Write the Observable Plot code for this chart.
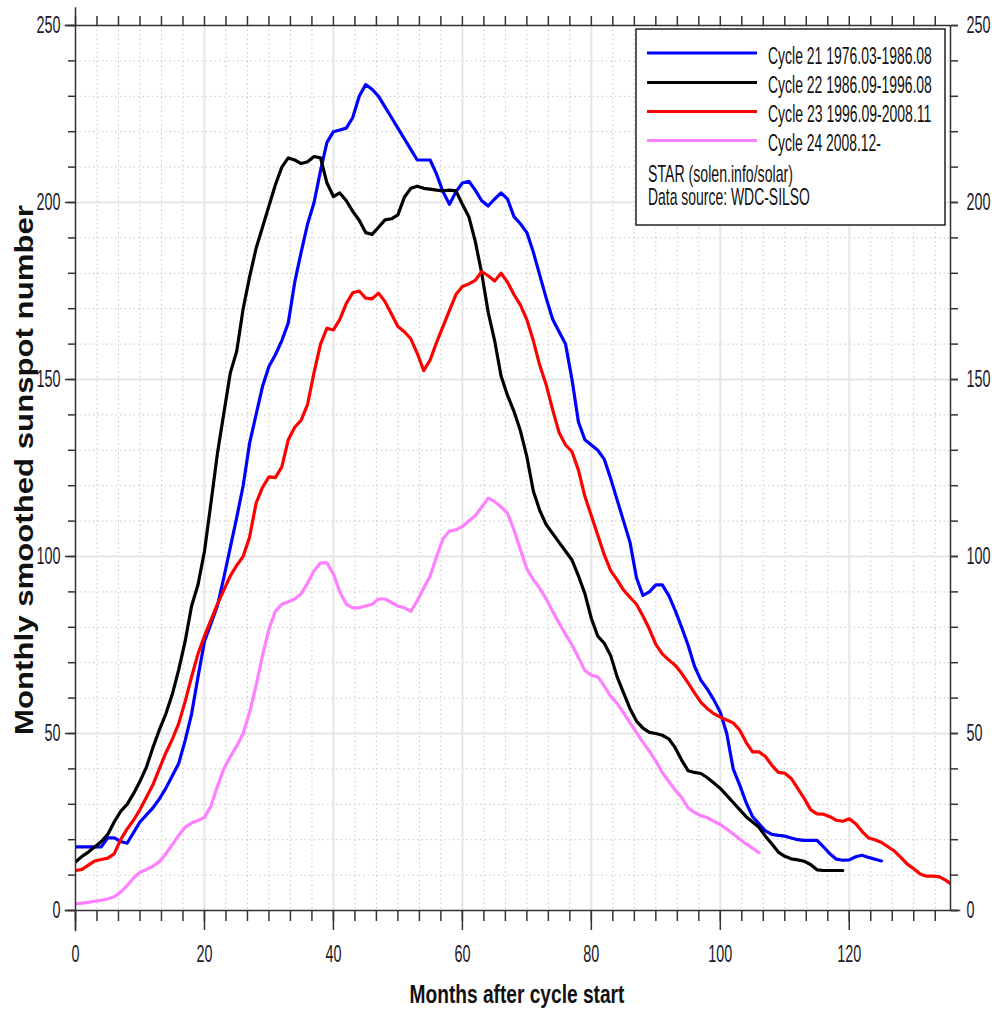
<!DOCTYPE html>
<html>
<head>
<meta charset="utf-8">
<script src="https://cdn.jsdelivr.net/npm/d3@7"></script>
<script src="https://cdn.jsdelivr.net/npm/@observablehq/plot@0.6"></script>
<style>
  body { margin: 0; background: #fff; }
  #c { position: relative; width: 992px; height: 1010px; }
</style>
</head>
<body>
<div id="c"></div>
<script>
// ---- Data (monthly smoothed sunspot number, month index = months after cycle start) ----
const cycle21 = [18,18,18,18,18,20.5,20.5,19.5,19,22,25,27,29,31.5,34.5,38,41.5,48,55.5,66,76,81,86,94,102.5,111,120,132,140,148,153.7,157,161,166,177.5,186,194,200,209,217,220,220.5,221,224,230,233.3,232,230,227,224,221,218,215,212,212,212,208,203,199.5,203,205.5,206,203.5,200.5,199,201,202.7,201,196,194,191.5,186,179.5,173,167,163.5,160,150,138,133,131.5,130,127.5,122,116,110,104,94,89,90,92,92,89,84.8,80,75,69,65,62.5,59.5,56,50,40,35.5,30.5,26.5,24.5,22.5,21.5,21.2,21,20.5,20,19.8,19.8,19.8,18,16,14.5,14.2,14.3,15.2,15.6,15,14.5,14];
const cycle22 = [13.7,15.3,16.5,18,19.5,21.5,25,28,30,33,36.5,40.5,46,51,55.5,61,68,76,86,92,101.5,115,129,140.4,151.8,158,170,179,187,193,199,205,210,212.6,212,211,211.5,213,212.6,205.5,201.7,202.7,200.5,197.5,195,191.5,191,193,195.1,195.4,196.5,201.5,204,204.6,204,203.8,203.5,203.3,203.5,203.3,199.5,196,189,180,169,161,151,145.5,141,135.5,128.2,118.5,113,109,106.5,104,101.5,99,94.5,89.5,82.5,77.5,75.5,72,66,61.5,57,53.5,51.5,50.3,50,49.5,48.5,46,42.5,39.5,39,38.7,37.5,36,34.5,32.5,30.5,28.5,26.5,25,23.5,21,18.8,16.5,15.3,14.6,14.3,13.9,13,11.5,11.3,11.3,11.3,11.3];
const cycle23 = [11.3,11.6,12.8,14,14.4,14.8,16,20,23,25.5,28.5,32,35.5,40,44.5,48.3,52.8,59,66,72.5,77.5,82,86.5,90.5,94.5,97.5,100,105.5,115,119.5,122.5,122.3,125.3,133,136.5,138.5,143,152,160,164.5,164,167,171.5,174.5,175,173,172.8,174.4,172,168.5,165,163.5,161.5,157.4,152.5,155.5,160.5,165,169.5,174,176.3,177,178,180.5,179.3,177.8,180,177.5,174,171,166.9,161,154,148.5,141.5,135,131.5,129.6,124.4,117,111.5,106,100.5,96,93.4,90.5,88.5,86.5,83.2,79.5,75.2,72.5,70.8,69.3,67,64.3,61.5,58.8,57,55.6,54.6,53.8,53,51,47.5,44.8,44.8,43.5,41,39,38.8,37.3,34.5,31.7,28.5,27.3,27.2,26.5,25.5,25.2,25.9,24.5,22.3,20.5,20,19.2,18,16.8,15,13.1,11.8,10.3,9.7,9.7,9.5,8.5,7.2];
const cycle24 = [1.9,2.1,2.3,2.6,2.9,3.3,3.9,5.2,7,9.2,10.8,11.6,12.5,13.8,16,18.6,21.2,23.5,24.7,25.4,26.3,29.5,35,40,43.4,46.5,50,56,63.5,72,79.5,84.5,86.5,87.2,88,89.5,92.5,96,98.2,98.2,95,90,86.5,85.5,85.5,86,86.5,88,88,87,86,85.5,84.5,87.5,91,94.5,100,105,107.2,107.5,108.5,110,111.5,114,116.5,115.5,114,112.2,107.5,102,96.5,93.5,91,88,84.5,81.2,78,75,71.5,67.8,66.5,66,63.5,60.5,58.5,55.8,53,50.3,47.5,45,42.2,39,36.5,34,32,29,27.7,26.8,26.2,25.2,24.3,23,21.6,20.2,18.8,17.6,16.3];

const seriesNames = [
  "Cycle 21 1976.03-1986.08",
  "Cycle 22 1986.09-1996.08",
  "Cycle 23 1996.09-2008.11",
  "Cycle 24 2008.12-"
];
const seriesColors = ["#0000ff", "#000000", "#ff0000", "#ff80ff"];
const notes = ["STAR (solen.info/solar)", "Data source: WDC-SILSO"];

const xMajorTicks = [0, 20, 40, 60, 80, 100, 120];
const yMajorTicks = [0, 50, 100, 150, 200, 250];
const xMinorTicks = d3.range(0, 135.7, 20 / 6);
const yMinorTicks = d3.range(0, 251, 10);
const xMax = 135.7;

const xLabel = "Months after cycle start";
const yLabel = "Monthly smoothed sunspot number";

// ---- Build table ----
const allSeries = [cycle21, cycle22, cycle23, cycle24];
const rows = allSeries.map((vals, i) => vals.map((v, m) => ({month: m, value: v, cycle: seriesNames[i]})));

const FONT = "'Liberation Sans', Arial, sans-serif";
const gridMinor = {stroke: "#c8c8c8", strokeOpacity: 1, strokeWidth: 1, strokeDasharray: "1.5,3"};
const gridMajor = {stroke: "#e6e6e6", strokeOpacity: 1, strokeWidth: 2};
const axisLine = {stroke: "#333", strokeWidth: 1.5};
const tickStyle = {stroke: "#333", strokeWidth: 1.5, label: null, fontSize: 24, fill: "#1a1a2a"};

const chart = Plot.plot({
  width: 992,
  height: 1010,
  marginLeft: 75,
  marginRight: 42,
  marginTop: 25,
  marginBottom: 100,
  style: {fontFamily: FONT, fontSize: "24px", color: "#1a1a2a", background: "white", overflow: "visible"},
  x: {domain: [0, xMax], label: null},
  y: {domain: [0, 250], label: null},
  marks: [
    Plot.gridY(yMinorTicks.filter(v => v % 50 !== 0), gridMinor),
    Plot.gridX(xMinorTicks.filter((v, i) => i % 6 !== 0), gridMinor),
    Plot.gridY(yMajorTicks.filter(v => v > 0 && v < 250), gridMajor),
    Plot.gridX(xMajorTicks.filter(v => v > 0), gridMajor),
    ...rows.map((r, i) => Plot.line(r, {x: "month", y: "value", stroke: seriesColors[i], strokeWidth: 3.2, clip: true})),
    // axis lines
    Plot.ruleX([0], {y1: -6, y2: 255, ...axisLine}),
    Plot.ruleX([xMax], {y1: 0, y2: 250, ...axisLine}),
    Plot.ruleY([0], {x1: -1.6, x2: xMax + 1.6, ...axisLine}),
    Plot.ruleY([250], {x1: -1.6, x2: xMax, ...axisLine}),
    // left axis
    Plot.axisY(yMinorTicks, {anchor: "left", tickSize: 7, tickFormat: () => "", ...tickStyle}),
    Plot.axisY(yMajorTicks, {anchor: "left", tickSize: 10, tickPadding: 5, ...tickStyle}),
    // right axis
    Plot.axisY(yMinorTicks, {anchor: "right", tickSize: 7, tickFormat: () => "", ...tickStyle}),
    Plot.axisY(yMajorTicks, {anchor: "right", tickSize: 7, tickPadding: 9, ...tickStyle}),
    // bottom axis
    Plot.axisX(xMinorTicks, {anchor: "bottom", tickSize: 11, tickFormat: () => "", ...tickStyle}),
    Plot.axisX(xMajorTicks, {anchor: "bottom", tickSize: 20, tickPadding: 14, ...tickStyle}),
    // top axis
    Plot.axisX(xMinorTicks, {anchor: "top", tickSize: 10, tickFormat: () => "", ...tickStyle})
  ]
});

document.getElementById("c").appendChild(chart);
const svg = d3.select(chart);

// horizontally condense a text element about its anchor x
function condense(el, s) {
  let x = parseFloat(el.getAttribute("x"));
  if (!isFinite(x)) x = 0;
  const t = el.getAttribute("transform") || "";
  el.setAttribute("transform", `${t} translate(${x},0) scale(${s.toFixed(4)},1) translate(${-x},0)`.trim());
}
function fitWidth(el, target) {
  const w = el.getComputedTextLength();
  if (w > 0) condense(el, target / w);
}

// tick labels: narrow, tall typeface look
svg.selectAll("text").each(function () {
  if (this.getComputedTextLength() > 0) condense(this, 0.6);
});

// axis titles
const xt = svg.append("text")
  .attr("x", 517).attr("y", 1003)
  .attr("text-anchor", "middle")
  .attr("font-family", FONT)
  .attr("font-weight", "bold").attr("font-size", 25)
  .attr("fill", "#111")
  .text(xLabel);
fitWidth(xt.node(), 215);

const yt = svg.append("text")
  .attr("transform", "translate(33,470) rotate(-90)")
  .attr("text-anchor", "middle")
  .attr("font-family", FONT)
  .attr("font-weight", "bold").attr("font-size", 25)
  .attr("fill", "#111")
  .text(yLabel);
fitWidth(yt.node(), 530);

// legend box
const lg = svg.append("g").attr("font-family", FONT).attr("fill", "#111").attr("text-anchor", "start");
lg.append("rect").attr("x", 636).attr("y", 29).attr("width", 309).attr("height", 196)
  .attr("fill", "white").attr("stroke", "#222").attr("stroke-width", 1.5);
const lineY = [53, 82.5, 111.5, 140.5];
const textW = [164, 164, 163.5, 113];
seriesNames.forEach((name, i) => {
  lg.append("line").attr("x1", 647).attr("x2", 757).attr("y1", lineY[i]).attr("y2", lineY[i])
    .attr("stroke", seriesColors[i]).attr("stroke-width", 3.2);
  const t = lg.append("text").attr("x", 768).attr("y", lineY[i] + 11)
    .attr("font-size", 24)
    .text(name);
  fitWidth(t.node(), textW[i]);
});
const noteY = [182, 205];
const noteW = [145, 162];
notes.forEach((s, i) => {
  const t = lg.append("text").attr("x", 648).attr("y", noteY[i])
    .attr("font-size", 23)
    .text(s);
  fitWidth(t.node(), noteW[i]);
});
</script>
</body>
</html>
